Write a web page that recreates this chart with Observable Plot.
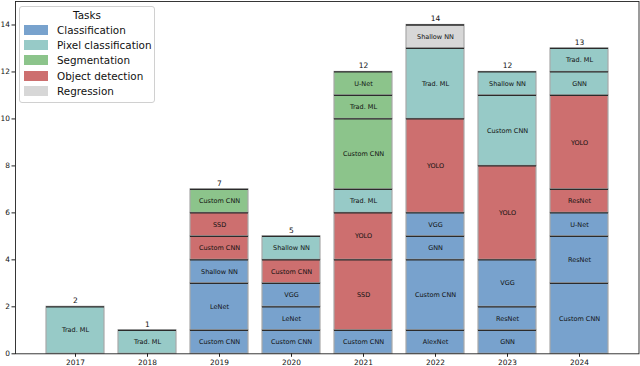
<!DOCTYPE html>
<html>
<head>
<meta charset="utf-8">
<script src="https://cdn.jsdelivr.net/npm/d3@7"></script>
<script src="https://cdn.jsdelivr.net/npm/@observablehq/plot@0.6"></script>
<style>
  body { margin: 0; background: #fff; font-family: "DejaVu Sans", sans-serif; }
  #wrap { position: relative; width: 640px; height: 366px; }
  #legend {
    position: absolute; left: 19px; top: 6px; width: 136px; height: 97px;
    box-sizing: border-box; border: 1px solid #d0d0d0; border-radius: 3px;
    background: rgba(255,255,255,0.85); font-size: 10.4px; color: #111;
  }
  #legend .title { text-align: center; margin-top: 1px; height: 14px; line-height: 14px; }
  #legend .row { display: flex; align-items: center; height: 15.4px; }
  #legend .sw { width: 22px; height: 8px; margin-left: 4px; margin-right: 9px; }
</style>
</head>
<body>
<div id="wrap">
  <div id="chart"></div>
  <div id="legend"></div>
</div>
<script>
const years = ["2017","2018","2019","2020","2021","2022","2023","2024"];
const tasks = ["Classification","Pixel classification","Segmentation","Object detection","Regression"];
const taskColors = ["#78a2cd","#97cac7","#8cc48b","#cd6f6f","#d7d7d7"];
const yTicks = [0, 2, 4, 6, 8, 10, 12, 14];

// segments, bottom to top within each year
const segYear = [
  "2017",
  "2018",
  "2019","2019","2019","2019","2019","2019",
  "2020","2020","2020","2020","2020",
  "2021","2021","2021","2021","2021","2021","2021",
  "2022","2022","2022","2022","2022","2022","2022",
  "2023","2023","2023","2023","2023","2023",
  "2024","2024","2024","2024","2024","2024","2024"
];
const segTask = [
  "Pixel classification",
  "Pixel classification",
  "Classification","Classification","Classification","Object detection","Object detection","Segmentation",
  "Classification","Classification","Classification","Object detection","Pixel classification",
  "Classification","Object detection","Object detection","Pixel classification","Segmentation","Segmentation","Segmentation",
  "Classification","Classification","Classification","Classification","Object detection","Pixel classification","Regression",
  "Classification","Classification","Classification","Object detection","Pixel classification","Pixel classification",
  "Classification","Classification","Classification","Object detection","Object detection","Pixel classification","Pixel classification"
];
const segModel = [
  "Trad. ML",
  "Trad. ML",
  "Custom CNN","LeNet","Shallow NN","Custom CNN","SSD","Custom CNN",
  "Custom CNN","LeNet","VGG","Custom CNN","Shallow NN",
  "Custom CNN","SSD","YOLO","Trad. ML","Custom CNN","Trad. ML","U-Net",
  "AlexNet","Custom CNN","GNN","VGG","YOLO","Trad. ML","Shallow NN",
  "GNN","ResNet","VGG","YOLO","Custom CNN","Shallow NN",
  "Custom CNN","ResNet","U-Net","ResNet","YOLO","GNN","Trad. ML"
];
const segCount = [
  2,
  1,
  1,2,1,1,1,1,
  1,1,1,1,1,
  1,3,2,1,3,1,1,
  1,3,1,1,4,3,1,
  1,1,2,4,3,1,
  3,2,1,1,4,1,1
];
const totals = [2, 1, 7, 5, 12, 14, 12, 13];

const segs = segYear.map((y, i) => ({year: y, task: segTask[i], model: segModel[i], count: segCount[i]}));
const totalRows = years.map((y, i) => ({year: y, total: totals[i]}));

const chart = Plot.plot({
  width: 640,
  height: 366,
  marginLeft: 15,
  marginRight: 1.5,
  marginTop: 1,
  marginBottom: 12.7,
  style: {fontFamily: "DejaVu Sans, sans-serif", background: "#fff", color: "#111"},
  x: {type: "band", domain: years, paddingInner: 0.2, paddingOuter: 0.39, label: null},
  y: {domain: [0, 15], label: null},
  color: {domain: tasks, range: taskColors},
  marks: [
    Plot.barY(segs, {x: "year", y: "count", fill: "task", stroke: "#a9a9a9", strokeWidth: 1.2}),
    Plot.tickY(segs, Plot.stackY2({x: "year", y: "count", stroke: "#2b2b2b", strokeWidth: 1.3})),
    Plot.text(segs, Plot.stackY({x: "year", y: "count", text: "model", fontSize: 6.5, fill: "#111"})),
    Plot.text(totalRows, {x: "year", y: "total", text: d => String(d.total), dy: -6, fontSize: 7.5, fill: "#111"}),
    Plot.axisX({tickSize: 3.5, tickPadding: 2, fontSize: 7.4, stroke: "#222"}),
    Plot.axisY({ticks: yTicks, tickSize: 3.5, tickPadding: 2, fontSize: 7.4, tickFormat: d => String(d), stroke: "#222"}),
    Plot.frame({stroke: "#222", strokeWidth: 0.9})
  ]
});
document.getElementById("chart").appendChild(chart);

const legend = document.getElementById("legend");
const t = document.createElement("div");
t.className = "title"; t.textContent = "Tasks";
legend.appendChild(t);
tasks.forEach((name, i) => {
  const row = document.createElement("div");
  row.className = "row";
  const sw = document.createElement("div");
  sw.className = "sw";
  sw.style.background = taskColors[i];
  sw.style.border = "1px solid " + taskColors[i];
  const lab = document.createElement("span");
  lab.textContent = name;
  row.appendChild(sw); row.appendChild(lab);
  legend.appendChild(row);
});
</script>
</body>
</html>
